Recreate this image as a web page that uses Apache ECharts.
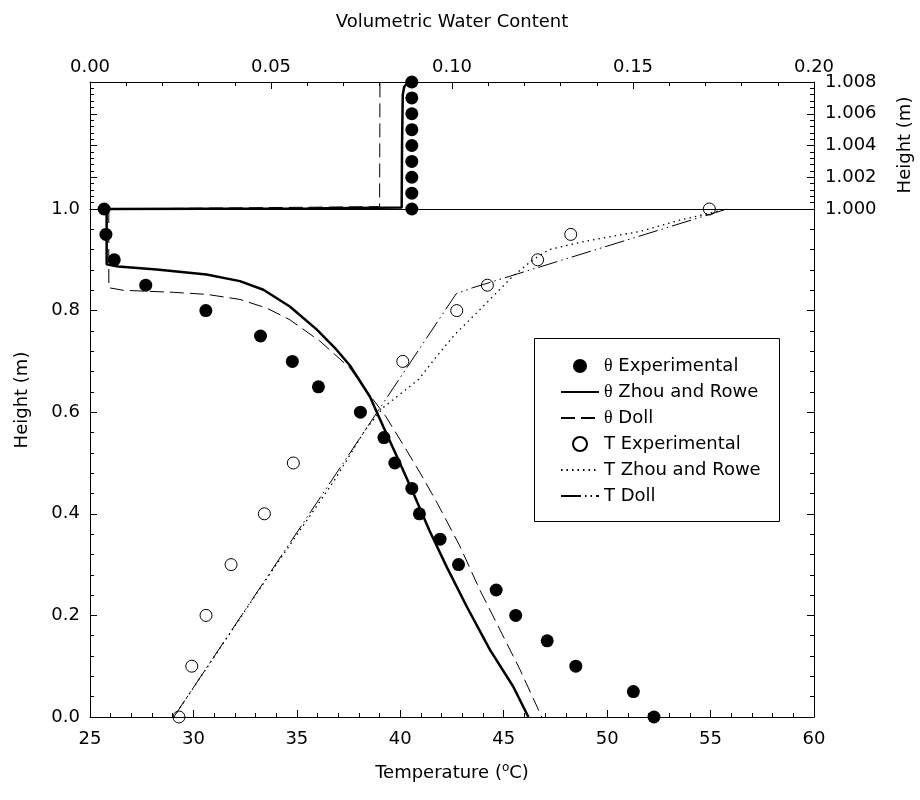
<!DOCTYPE html>
<html><head><meta charset="utf-8">
<script src="https://cdn.jsdelivr.net/npm/echarts@6/dist/echarts.min.js"></script>
<style>html,body{margin:0;padding:0;background:#fff}#c{width:920px;height:800px}</style>
</head><body><div id="c"></div>
<script>
// ---------- data ----------
const tempTicks = [25, 30, 35, 40, 45, 50, 55, 60];
const vwcTicks = [0.00, 0.05, 0.10, 0.15, 0.20];
const heightTicks = [0.0, 0.2, 0.4, 0.6, 0.8, 1.0];
const topHeightTicks = [1.000, 1.002, 1.004, 1.006, 1.008];

// θ series: [volumetric water content, height]
const thetaExpLower = [[0.0039,1.00],[0.0044,0.95],[0.0067,0.90],[0.0154,0.85],[0.0320,0.80],[0.0471,0.75],[0.0559,0.70],[0.0631,0.65],[0.0747,0.60],[0.0812,0.55],[0.0842,0.50],[0.0889,0.45],[0.0910,0.40],[0.0967,0.35],[0.1018,0.30],[0.1122,0.25],[0.1176,0.20],[0.1263,0.15],[0.1342,0.10],[0.1501,0.05],[0.1558,0.00]];
const thetaExpUpper = [[0.0889,1.000],[0.0889,1.001],[0.0889,1.002],[0.0889,1.003],[0.0889,1.004],[0.0889,1.005],[0.0889,1.006],[0.0889,1.007],[0.0889,1.008]];
const thetaZhouLower = [[0.0046,1.0],[0.0046,0.891],[0.0078,0.887],[0.0184,0.881],[0.0322,0.871],[0.0414,0.858],[0.0479,0.841],[0.0552,0.808],[0.0626,0.763],[0.0681,0.723],[0.0718,0.692],[0.0773,0.631],[0.0810,0.572],[0.0856,0.500],[0.0893,0.441],[0.0937,0.368],[0.0985,0.296],[0.1041,0.217],[0.1105,0.132],[0.1169,0.060],[0.1211,0.0]];
const thetaZhouUpper = [[0.0046,1.0],[0.0600,1.00003],[0.0861,1.0001],[0.0862,1.004],[0.0864,1.0072],[0.0868,1.0077],[0.0879,1.008]];
const thetaDollLower = [[0.0052,1.0],[0.0052,0.845],[0.0092,0.840],[0.0230,0.836],[0.0322,0.832],[0.0414,0.822],[0.0488,0.805],[0.0552,0.782],[0.0635,0.740],[0.0718,0.687],[0.0766,0.640],[0.0815,0.594],[0.0866,0.535],[0.0914,0.478],[0.0960,0.420],[0.1022,0.336],[0.1077,0.250],[0.1133,0.171],[0.1188,0.093],[0.1248,0.0]];
const thetaDollUpper = [[0.0052,1.0],[0.0800,1.00015],[0.0801,1.00015],[0.0801,1.008]];
// T series: [temperature °C, height]
const tExp = [[29.30,0.0],[29.92,0.1],[30.61,0.2],[31.82,0.3],[33.43,0.4],[34.83,0.5],[40.12,0.7],[42.73,0.8],[44.21,0.85],[46.64,0.9],[48.24,0.95],[54.94,1.0]];
const tZhou = [[29.05,0.0],[33.5,0.27],[36.8,0.465],[38.3,0.565],[39.2,0.61],[40.9,0.665],[41.76,0.71],[42.64,0.753],[43.85,0.802],[44.6,0.833],[45.4,0.866],[46.4,0.90],[47.2,0.92],[49.0,0.937],[51.6,0.956],[53.5,0.978],[55.8,1.0]];
const tDoll = [[29.05,0.0],[42.7,0.833],[43.5,0.845],[55.8,1.0]];
const legendNames = ['θ Experimental','θ Zhou and Rowe','θ Doll','T Experimental','T Zhou and Rowe','T Doll'];

// ---------- chart ----------
const F = 'DejaVu Sans';
const black = '#000';
function line(){ return {show:true, onZero:false, lineStyle:{color:black, width:1}}; }
function tick(inside){ return {show:true, inside:inside, length:7, lineStyle:{color:black, width:1}}; }
function minor(){ return {show:true, splitNumber:5, length:4, lineStyle:{color:black, width:1}}; }
function label(fmt, margin){ return {show:true, margin:margin, fontSize:18, fontFamily:F, color:black, formatter:fmt}; }

const chart = echarts.init(document.getElementById('c'));
chart.setOption({
  animation:false,
  backgroundColor:'#fff',
  grid:[
    {left:90, right:106, top:209, height:508},
    {left:90, right:106, top:82, height:127}
  ],
  xAxis:[
    {gridIndex:0, type:'value', position:'bottom', min:tempTicks[0], max:tempTicks[tempTicks.length-1], interval:5, z:10,
     axisLine:line(), axisTick:tick(true), minorTick:minor(), axisLabel:label(x=>String(x), 13), splitLine:{show:false},
     name:'Temperature ({s|o}C)', nameLocation:'middle', nameGap:45,
     nameTextStyle:{fontSize:18, fontFamily:F, color:black, rich:{s:{fontSize:12, fontFamily:F, color:black, padding:[0,0,10,0]}}}},
    {gridIndex:0, type:'value', position:'top', min:vwcTicks[0], max:vwcTicks[vwcTicks.length-1], z:10,
     axisLine:line(), axisTick:{show:false}, axisLabel:{show:false}, splitLine:{show:false}},
    {gridIndex:1, type:'value', position:'top', min:vwcTicks[0], max:vwcTicks[vwcTicks.length-1], interval:0.05, z:10,
     axisLine:line(), axisTick:tick(true), minorTick:minor(), axisLabel:label(x=>x.toFixed(2), 6), splitLine:{show:false}}
  ],
  yAxis:[
    {gridIndex:0, type:'value', position:'left', min:heightTicks[0], max:heightTicks[heightTicks.length-1], interval:0.2, z:10,
     axisLine:line(), axisTick:tick(true), minorTick:minor(), axisLabel:label(x=>x.toFixed(1), 10), splitLine:{show:false}},
    {gridIndex:0, type:'value', position:'right', min:heightTicks[0], max:heightTicks[heightTicks.length-1], interval:0.2, z:10,
     axisLine:line(), axisTick:tick(true), minorTick:minor(), axisLabel:{show:false}, splitLine:{show:false}},
    {gridIndex:1, type:'value', position:'right', min:topHeightTicks[0], max:topHeightTicks[topHeightTicks.length-1], interval:0.002, z:10,
     axisLine:line(), axisTick:tick(true), minorTick:minor(), axisLabel:label(x=>x.toFixed(3), 11), splitLine:{show:false}},
    {gridIndex:1, type:'value', position:'left', min:topHeightTicks[0], max:topHeightTicks[topHeightTicks.length-1], interval:0.002, z:10,
     axisLine:line(), axisTick:tick(true), minorTick:minor(), axisLabel:{show:false}, splitLine:{show:false}}
  ],
  legend:{
    orient:'vertical', left:555, top:352, itemWidth:38, itemHeight:14, itemGap:8, selectedMode:false,
    data:legendNames,
    formatter: n => n[0]==='θ' ? '{g|θ}' + n.slice(1) : n,
    textStyle:{fontSize:18, fontFamily:F, color:black, rich:{g:{fontSize:18, fontFamily:'Liberation Serif', color:black}}}
  },
  series:[
    {name:'θ Doll', type:'line', xAxisIndex:1, yAxisIndex:0, data:thetaDollLower, symbol:'none', clip:false,
     itemStyle:{color:black, opacity:0}, lineStyle:{color:black, width:1, type:[14,6]}},
    {name:'θ Doll', type:'line', xAxisIndex:2, yAxisIndex:2, data:thetaDollUpper, symbol:'none', clip:false,
     itemStyle:{color:black, opacity:0}, lineStyle:{color:black, width:1, type:[14,6]}},
    {name:'θ Zhou and Rowe', type:'line', xAxisIndex:1, yAxisIndex:0, data:thetaZhouLower, symbol:'none', clip:false,
     itemStyle:{color:black, opacity:0}, lineStyle:{color:black, width:2.5}},
    {name:'θ Zhou and Rowe', type:'line', xAxisIndex:2, yAxisIndex:2, data:thetaZhouUpper, symbol:'none', clip:false,
     itemStyle:{color:black, opacity:0}, lineStyle:{color:black, width:2.5}},
    {name:'T Zhou and Rowe', type:'line', xAxisIndex:0, yAxisIndex:0, data:tZhou, symbol:'none', clip:false,
     itemStyle:{color:black, opacity:0}, lineStyle:{color:black, width:1.3, type:[1.5,4]}},
    {name:'T Doll', type:'line', xAxisIndex:0, yAxisIndex:0, data:tDoll, symbol:'none', clip:false,
     itemStyle:{color:black, opacity:0}, lineStyle:{color:black, width:1, type:[20,4,1.5,4,1.5,4]}},
    {name:'θ Experimental', type:'scatter', xAxisIndex:1, yAxisIndex:0, data:thetaExpLower, symbolSize:13, clip:false,
     itemStyle:{color:black, opacity:1}, z:5},
    {name:'θ Experimental', type:'scatter', xAxisIndex:2, yAxisIndex:2, data:thetaExpUpper, symbolSize:13, clip:false,
     itemStyle:{color:black, opacity:1}, z:5},
    {name:'T Experimental', type:'scatter', xAxisIndex:0, yAxisIndex:0, data:tExp, symbolSize:12, clip:false,
     itemStyle:{color:'rgba(0,0,0,0)', borderColor:black, borderWidth:1, opacity:1}, z:5}
  ],
  graphic:[
    {type:'rect', shape:{x:534.5, y:338.5, width:245, height:183}, style:{fill:'none', stroke:black, lineWidth:1}, silent:true},
    {type:'text', x:452, y:22, style:{text:'Volumetric Water Content', fontSize:18, fontFamily:F, fill:black, align:'center', verticalAlign:'middle'}},
    {type:'text', x:22, y:400, rotation:Math.PI/2, style:{text:'Height (m)', fontSize:18, fontFamily:F, fill:black, align:'center', verticalAlign:'middle'}},
    {type:'text', x:905, y:145, rotation:Math.PI/2, style:{text:'Height (m)', fontSize:18, fontFamily:F, fill:black, align:'center', verticalAlign:'middle'}}
  ]
});
</script>
</body></html>
